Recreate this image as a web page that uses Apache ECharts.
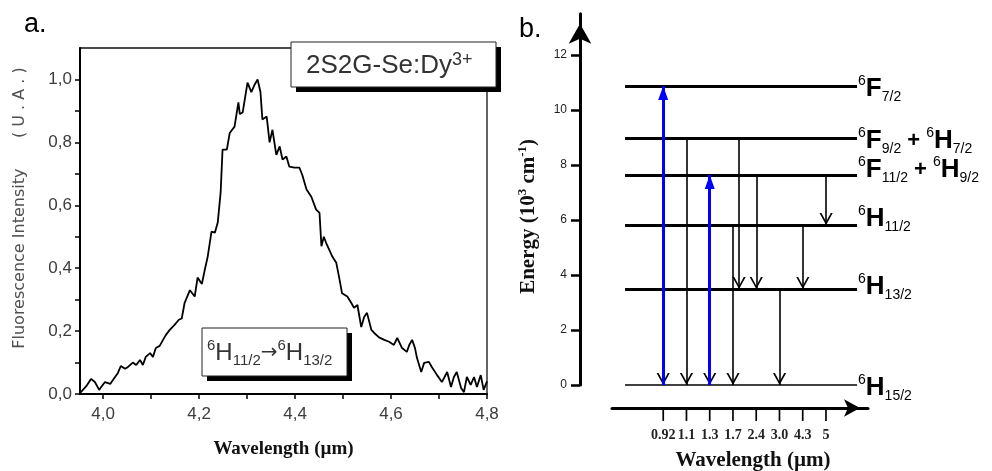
<!DOCTYPE html>
<html><head><meta charset="utf-8">
<script src="https://cdn.jsdelivr.net/npm/echarts@6/dist/echarts.min.js"></script>
<style>html,body{margin:0;padding:0;background:#fff}#c{width:992px;height:471px}</style>
</head><body><div id="c"></div>
<script>
// ---------- Panel a: fluorescence spectrum ----------
const spectrumWavelength = [3.952,3.965,3.975,3.983,3.992,3.996,4.004,4.015,4.021,4.031,4.037,4.046,4.052,4.062,4.069,4.077,4.083,4.089,4.098,4.104,4.110,4.118,4.125,4.131,4.139,4.149,4.158,4.164,4.170,4.181,4.191,4.197,4.206,4.212,4.218,4.226,4.233,4.239,4.245,4.249,4.258,4.264,4.274,4.282,4.285,4.291,4.301,4.309,4.316,4.322,4.328,4.332,4.341,4.347,4.353,4.361,4.368,4.374,4.382,4.388,4.399,4.409,4.415,4.424,4.434,4.444,4.451,4.455,4.460,4.465,4.478,4.486,4.492,4.498,4.509,4.517,4.523,4.530,4.538,4.544,4.550,4.559,4.565,4.575,4.586,4.596,4.606,4.613,4.617,4.623,4.627,4.633,4.638,4.644,4.650,4.654,4.663,4.669,4.679,4.685,4.696,4.706,4.717,4.725,4.731,4.737,4.746,4.752,4.758,4.766,4.773,4.779,4.787,4.793,4.800];
const spectrumIntensity = [0.003,0.025,0.048,0.038,0.013,0.022,0.038,0.032,0.045,0.067,0.089,0.080,0.086,0.100,0.092,0.108,0.092,0.118,0.130,0.118,0.146,0.153,0.172,0.188,0.204,0.220,0.236,0.240,0.290,0.330,0.310,0.370,0.350,0.395,0.436,0.516,0.513,0.545,0.640,0.777,0.777,0.830,0.850,0.927,0.890,0.895,0.990,0.960,0.984,1.000,0.960,0.873,0.882,0.800,0.840,0.760,0.787,0.745,0.755,0.723,0.720,0.720,0.697,0.650,0.627,0.586,0.576,0.470,0.500,0.480,0.436,0.417,0.370,0.320,0.310,0.290,0.274,0.283,0.213,0.245,0.258,0.204,0.194,0.180,0.172,0.166,0.156,0.178,0.172,0.146,0.146,0.134,0.156,0.172,0.146,0.115,0.070,0.099,0.102,0.086,0.060,0.038,0.070,0.022,0.054,0.070,0.019,0.006,0.054,0.029,0.054,0.022,0.060,0.013,0.040];
const wavelengthTicks = [4.0,4.1,4.2,4.3,4.4,4.5,4.6,4.7,4.8];
const wavelengthLabels = [4.0,4.2,4.4,4.6,4.8];
const intensityTicks = [0,0.1,0.2,0.3,0.4,0.5,0.6,0.7,0.8,0.9,1.0];
const intensityLabels = [0,0.2,0.4,0.6,0.8,1.0];
const sampleName = '2S2G-Se:Dy';
const sampleCharge = '3+';

// ---------- Panel b: energy level diagram ----------
const levelNames = ['6H15/2','6H13/2','6H11/2','6F11/2 + 6H9/2','6F9/2 + 6H7/2','6F7/2'];
const levelEnergies = [0, 3.49, 5.82, 7.64, 8.98, 10.87];
const energyTicks = [0,2,4,6,8,10,12];
const transitionSlots = [1,2,3,4,5,6,7,8];
const transitionLabels = ['0.92','1.1','1.3','1.7','2.4','3.0','4.3','5'];
const emissionSlot = [1,2,3,4,4.26,5,6,7,8];
const emissionFromLevel = [5,4,3,2,4,3,1,2,3];
const emissionToLevel = [0,0,0,0,1,1,0,1,2];
const pumpSlot = [1,3];
const pumpToLevel = [5,3];

// layout / style helpers (not data)
const levelLabelShift = [-3,2,6,5,-3,-3];   // px, positive = up
const SANS = 'Liberation Sans';
const SERIF = 'Liberation Serif';
const chevron = 'path://M0,0 L0.01,0 L0,0.01 Z M24,0 L23.99,0 L24,0.01 Z M12,12 L18.6,24 L16.7,24 L12,15.4 L7.3,24 L5.4,24 Z';
const triangle = 'path://M0,0 L0.01,0 L0,0.01 Z M28,0 L27.99,0 L28,0.01 Z M14,14 L19,28 L9,28 Z';

function termRich(name) {
  return name.split(' + ').map(t => {
    const m = t.match(/^(\d+)([A-Z])(.+)$/);
    return '{sup|' + m[1] + '}{big|' + m[2] + '}{sub|' + m[3] + '}';
  }).join('{plus| + }');
}

const chart = echarts.init(document.getElementById('c'), null, {renderer: 'canvas'});
const commaFmt = v => Number(v).toFixed(1).replace('.', ',');
const slotLabel = v => {
  const i = transitionSlots.indexOf(Math.round(v));
  return i < 0 ? '' : '{tk|\u2503}\n{lb|' + transitionLabels[i] + '}';
};

const option = {
  animation: false,
  backgroundColor: '#fff',
  title: [
    {text: 'a.', left: 24, top: 11, padding: 0, textStyle: {fontSize: 27, fontWeight: 'normal', color: '#000', fontFamily: SANS}},
    {text: 'b.', left: 519, top: 16, padding: 0, textStyle: {fontSize: 27, fontWeight: 'normal', color: '#000', fontFamily: SANS}}
  ],
  grid: [
    {left: 80, top: 48, width: 407, height: 346, outerBoundsMode: 'none', containLabel: false, show: true, borderColor: '#111', borderWidth: 1.3, backgroundColor: 'transparent'},
    {left: 612, top: 13.75, width: 256, height: 371.25, outerBoundsMode: 'none', containLabel: false}
  ],
  xAxis: [
    {
      gridIndex: 0, type: 'value', min: 3.952, max: 4.8,
      axisLine: {onZero: false, lineStyle: {color: '#000', width: 2}},
      axisTick: {customValues: wavelengthTicks, length: 5, lineStyle: {color: '#000', width: 1.5}},
      axisLabel: {customValues: wavelengthLabels, formatter: commaFmt, margin: 12, fontSize: 17, color: '#3c3c3c', fontFamily: SANS},
      splitLine: {show: false},
      name: 'Wavelength (µm)', nameLocation: 'middle', nameGap: 46,
      nameTextStyle: {fontFamily: SERIF, fontWeight: 'bold', fontSize: 19, color: '#111'}
    },
    {
      gridIndex: 1, type: 'value', min: -1.2, max: 9.8, offset: 23,
      axisLine: {show: true, onZero: false, symbol: ['none', 'arrow'], symbolSize: [13, 16], symbolOffset: [0, -8], lineStyle: {color: '#000', width: 3}},
      axisTick: {show: false},
      axisLabel: {
        customValues: transitionSlots, formatter: slotLabel, margin: 1,
        rich: {
          tk: {fontFamily: 'DejaVu Sans', fontSize: 11, color: '#000', lineHeight: 12},
          lb: {fontSize: 14, fontWeight: 'bold', color: '#222', fontFamily: SERIF, lineHeight: 28}
        }
      },
      splitLine: {show: false},
      name: 'Wavelength (µm)', nameLocation: 'middle', nameGap: 42,
      nameTextStyle: {fontFamily: SERIF, fontWeight: 'bold', fontSize: 21, color: '#111', padding: [0, 0, 0, 26]}
    }
  ],
  yAxis: [
    {
      gridIndex: 0, type: 'value', min: 0, max: 1.1,
      axisLine: {onZero: false, lineStyle: {color: '#000', width: 2}},
      axisTick: {customValues: intensityTicks, length: 5, lineStyle: {color: '#000', width: 1.5}},
      axisLabel: {customValues: intensityLabels, formatter: commaFmt, margin: 8, fontSize: 17, color: '#3c3c3c', fontFamily: SANS},
      splitLine: {show: false},
      name: 'Fluorescence Intensity      ( U . A . )', nameLocation: 'middle', nameGap: 52,
      nameTextStyle: {fontFamily: 'DejaVu Sans', fontSize: 16, color: '#505050', padding: [0, 0, 0, 26]}
    },
    {
      gridIndex: 1, type: 'value', min: 0, max: 13.5, offset: 32,
      axisLine: {onZero: false, symbol: ['none', 'arrow'], symbolSize: [17, 20], symbolOffset: [0, -10], lineStyle: {color: '#000', width: 3}},
      axisTick: {customValues: energyTicks, length: 9, lineStyle: {color: '#000', width: 2.5}},
      axisLabel: {customValues: energyTicks, margin: 13, fontSize: 12, color: '#222', fontFamily: SANS},
      splitLine: {show: false},
      name: '{b|Energy (10}{sup|3}{b| cm}{sup|-1}{b|)}', nameLocation: 'middle', nameGap: 38,
      nameTextStyle: {
        fontFamily: SERIF, fontWeight: 'bold', fontSize: 21, color: '#111', padding: [0, 34, 0, 0],
        rich: {
          b: {fontFamily: SERIF, fontWeight: 'bold', fontSize: 21, color: '#111', lineHeight: 26},
          sup: {fontFamily: SERIF, fontWeight: 'bold', fontSize: 13, color: '#111', verticalAlign: 'top', lineHeight: 14}
        }
      }
    }
  ],
  series: [
    {
      type: 'line', xAxisIndex: 0, yAxisIndex: 0, showSymbol: false, symbol: 'none',
      lineStyle: {color: '#000', width: 1.8}, z: 3,
      data: spectrumWavelength.map((w, i) => [w, spectrumIntensity[i]])
    },
    {
      type: 'lines', coordinateSystem: 'cartesian2d', xAxisIndex: 1, yAxisIndex: 1, z: 3, clip: false,
      symbol: 'none',
      lineStyle: {color: '#000', width: 3, opacity: 1},
      label: {
        show: true, position: 'end', distance: 1, color: '#000',
        formatter: p => termRich(levelNames[p.dataIndex]),
        rich: {
          sup: {fontFamily: SANS, fontSize: 14, color: '#000', verticalAlign: 'top', lineHeight: 16},
          big: {fontFamily: SANS, fontWeight: 'bold', fontSize: 26, color: '#000', lineHeight: 30},
          sub: {fontFamily: SANS, fontSize: 14, color: '#000', verticalAlign: 'bottom', lineHeight: 17},
          plus: {fontFamily: SANS, fontWeight: 'bold', fontSize: 22, color: '#000', lineHeight: 30}
        }
      },
      data: levelEnergies.map((e, i) => ({
        coords: [[-0.64, e], [9.33, e]],
        lineStyle: {width: i === 0 ? 1.5 : 3},
        label: {padding: [2 * Math.max(0, -levelLabelShift[i]), 0, 2 * Math.max(0, levelLabelShift[i]), 0]}
      }))
    },
    {
      type: 'lines', coordinateSystem: 'cartesian2d', xAxisIndex: 1, yAxisIndex: 1, z: 4, clip: false,
      symbol: ['none', chevron], symbolSize: 24,
      lineStyle: {color: '#000', width: 1.6, opacity: 1},
      data: emissionSlot.map((s, i) => ({coords: [[s, levelEnergies[emissionFromLevel[i]]], [s, levelEnergies[emissionToLevel[i]]]]}))
    },
    {
      type: 'lines', coordinateSystem: 'cartesian2d', xAxisIndex: 1, yAxisIndex: 1, z: 5, clip: false,
      symbol: ['none', triangle], symbolSize: 28,
      lineStyle: {color: '#0000ff', width: 3, opacity: 1},
      data: pumpSlot.map((s, i) => ({coords: [[s, 0], [s, levelEnergies[pumpToLevel[i]]]]}))
    }
  ],
  graphic: [
    {type: 'rect', z: 100, shape: {x: 296, y: 47, width: 205, height: 45}, style: {fill: '#000'}},
    {type: 'rect', z: 101, shape: {x: 291, y: 42, width: 205, height: 45}, style: {fill: '#fff', stroke: '#222', lineWidth: 1}},
    {type: 'text', z: 102, x: 306, y: 66, style: {
      text: '{t|' + sampleName + '}{s|' + sampleCharge + '}', verticalAlign: 'middle',
      rich: {
        t: {fontFamily: SANS, fontSize: 26, fill: '#333', lineHeight: 30},
        s: {fontFamily: SANS, fontSize: 18, fill: '#333', verticalAlign: 'top', lineHeight: 14}
      }
    }},
    {type: 'rect', z: 100, shape: {x: 207, y: 333, width: 145, height: 48}, style: {fill: '#000'}},
    {type: 'rect', z: 101, shape: {x: 202, y: 328, width: 145, height: 48}, style: {fill: '#fff', stroke: '#222', lineWidth: 1}},
    {type: 'text', z: 102, x: 207, y: 353, style: {
      text: '{p|6}{h|H}{b|11/2}{a|→}{p|6}{h|H}{b|13/2}', verticalAlign: 'middle',
      rich: {
        p: {fontFamily: SANS, fontSize: 15, fill: '#333', verticalAlign: 'top', lineHeight: 14},
        h: {fontFamily: SANS, fontSize: 24, fill: '#333', lineHeight: 30},
        b: {fontFamily: SANS, fontSize: 15, fill: '#333', verticalAlign: 'bottom', lineHeight: 14},
        a: {fontFamily: 'DejaVu Sans', fontSize: 20, fill: '#333', lineHeight: 30}
      }
    }}
  ]
};
chart.setOption(option);
</script>
</body></html>
